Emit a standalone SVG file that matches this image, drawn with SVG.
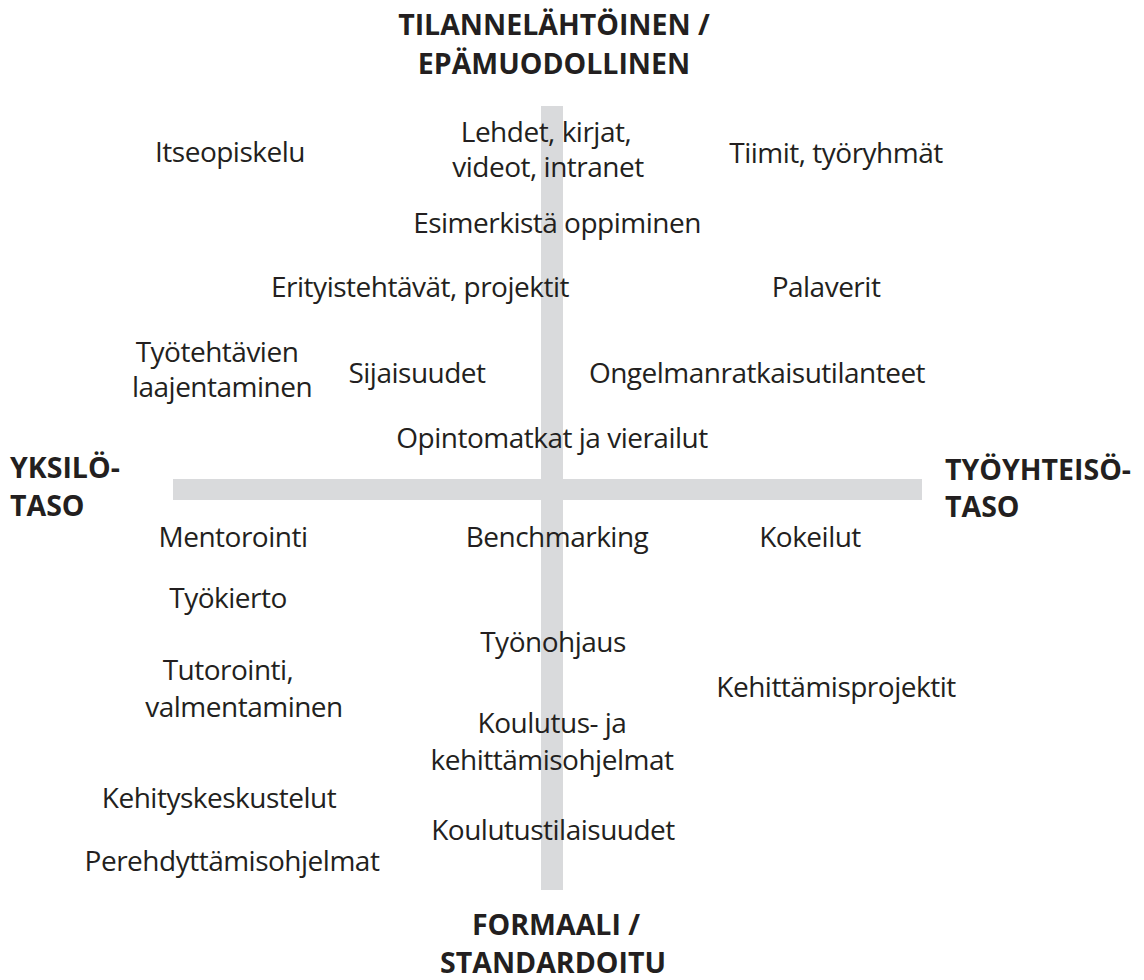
<svg xmlns="http://www.w3.org/2000/svg" width="1144" height="980" viewBox="0 0 1144 980">
<style>
.t{font-family:"Open Sans","Noto Sans",sans-serif;font-size:28px;letter-spacing:-0.5px;fill:#231f20;text-anchor:middle}
.b{font-family:"Open Sans","Noto Sans",sans-serif;font-size:28.5px;font-weight:bold;fill:#231f20}
.bar{fill:#d9dadc}
</style>
<rect width="1144" height="980" fill="#fff"/>
<g id="axes">
<rect class="bar" x="541" y="106" width="22" height="784"/>
<rect class="bar" x="173" y="479" width="749" height="21"/>
</g>
<g id="top-label"><text class="b" text-anchor="middle" x="554" y="35">TILANNELÄHTÖINEN /</text><text class="b" text-anchor="middle" x="554" y="74">EPÄMUODOLLINEN</text></g>
<g id="bottom-label"><text class="b" text-anchor="middle" x="556" y="935">FORMAALI /</text><text class="b" text-anchor="middle" x="553" y="973">STANDARDOITU</text></g>
<g id="left-label"><text class="b" x="10" y="478">YKSILÖ-</text><text class="b" x="10" y="516">TASO</text></g>
<g id="right-label"><text class="b" x="945" y="480">TYÖYHTEISÖ-</text><text class="b" x="945" y="517">TASO</text></g>
<g id="n1"><text class="t" x="230" y="162">Itseopiskelu</text></g>
<g id="n2"><text class="t" x="546" y="142">Lehdet, kirjat,</text><text class="t" x="548" y="177">videot, intranet</text></g>
<g id="n3"><text class="t" x="836" y="163">Tiimit, työryhmät</text></g>
<g id="n4"><text class="t" x="557" y="233">Esimerkistä oppiminen</text></g>
<g id="n5"><text class="t" x="420" y="297">Erityistehtävät, projektit</text></g>
<g id="n6"><text class="t" x="826" y="297">Palaverit</text></g>
<g id="n7"><text class="t" x="217" y="362">Työtehtävien</text><text class="t" x="222" y="397">laajentaminen</text></g>
<g id="n8"><text class="t" x="417" y="383">Sijaisuudet</text></g>
<g id="n9"><text class="t" x="757" y="383">Ongelmanratkaisutilanteet</text></g>
<g id="n10"><text class="t" x="552" y="448">Opintomatkat ja vierailut</text></g>
<g id="n11"><text class="t" x="233" y="547">Mentorointi</text></g>
<g id="n12"><text class="t" x="557" y="547">Benchmarking</text></g>
<g id="n13"><text class="t" x="810" y="547">Kokeilut</text></g>
<g id="n14"><text class="t" x="228" y="608">Työkierto</text></g>
<g id="n15"><text class="t" x="553" y="652">Työnohjaus</text></g>
<g id="n16"><text class="t" x="228" y="680">Tutorointi,</text><text class="t" x="244" y="717">valmentaminen</text></g>
<g id="n17"><text class="t" x="836" y="697">Kehittämisprojektit</text></g>
<g id="n18"><text class="t" x="552" y="733">Koulutus- ja</text><text class="t" x="552" y="770">kehittämisohjelmat</text></g>
<g id="n19"><text class="t" x="219" y="808">Kehityskeskustelut</text></g>
<g id="n20"><text class="t" x="553" y="840">Koulutustilaisuudet</text></g>
<g id="n21"><text class="t" x="232" y="871">Perehdyttämisohjelmat</text></g>
<g id="connectors"></g>
</svg>
